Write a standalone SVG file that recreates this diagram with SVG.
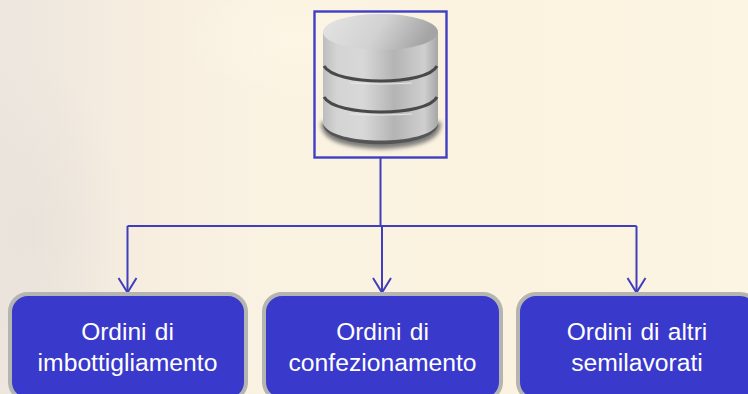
<svg xmlns="http://www.w3.org/2000/svg" width="748" height="394" viewBox="0 0 748 394">
<defs>
<linearGradient id="bg" x1="0" y1="0" x2="1" y2="0"><stop offset="0" stop-color="#ece6df"/><stop offset=".08" stop-color="#f0e9df"/><stop offset=".2" stop-color="#f7eee0"/><stop offset=".4" stop-color="#fbf3e2"/><stop offset=".7" stop-color="#fbf2df"/><stop offset="1" stop-color="#fcf5e3"/></linearGradient>
<radialGradient id="blot"><stop offset="0" stop-color="#e6dfd8" stop-opacity=".6"/><stop offset="1" stop-color="#e6dfd8" stop-opacity="0"/></radialGradient>
<radialGradient id="blot2"><stop offset="0" stop-color="#fff8e8" stop-opacity=".5"/><stop offset="1" stop-color="#fff8e8" stop-opacity="0"/></radialGradient>
<linearGradient id="cyl" x1="0" y1="0" x2="1" y2="0"><stop offset="0" stop-color="#bdbdbd"/><stop offset=".12" stop-color="#d4d4d4"/><stop offset=".35" stop-color="#d8d8d8"/><stop offset=".62" stop-color="#b4b4b4"/><stop offset=".88" stop-color="#cfcfcf"/><stop offset="1" stop-color="#a6a6a6"/></linearGradient>
<linearGradient id="top" x1="0" y1="0" x2="1" y2="0.2"><stop offset="0" stop-color="#e4e4e4"/><stop offset=".55" stop-color="#d2d2d2"/><stop offset="1" stop-color="#a4a4a4"/></linearGradient>
<filter id="soft" x="-20%" y="-20%" width="140%" height="140%"><feGaussianBlur stdDeviation="0.7"/></filter>
<filter id="shb" x="-20%" y="-50%" width="140%" height="200%"><feGaussianBlur stdDeviation="2"/></filter>
<marker id="arr" markerUnits="userSpaceOnUse" markerWidth="20" markerHeight="22" refX="16" refY="11" orient="auto"><path d="M1 2 L15.500 11 L1 20" fill="none" stroke="#3f3fbd" stroke-width="2"/></marker>
<style>
.box{fill:#3939cb;stroke:#b4b4b0;stroke-width:4}
.lbl{font-family:"Liberation Sans",Arial,sans-serif;font-size:24.700px;fill:#fff;text-anchor:middle}
.l1{font-size:24.500px;word-spacing:1.500px}
.con{fill:none;stroke:#3f3fbd;stroke-width:2}
.band{fill:none;stroke:#4a4a4a;stroke-width:3}
.shine{fill:none;stroke:#e8e8e8;stroke-width:1.200}
</style>
</defs>
<rect width="748" height="394" fill="url(#bg)"/>
<ellipse cx="30" cy="230" rx="90" ry="170" fill="url(#blot)"/>
<ellipse cx="290" cy="40" rx="110" ry="60" fill="url(#blot2)"/>
<g id="database">
<path d="M321 122 C321 130 322 147 381 149 C440 147 441 130 441 122 Z" fill="#7a7a78" filter="url(#shb)"/>
<path d="M323 32 V124 C325 151 436 151 438 124 V32 Z" fill="#555" filter="url(#soft)"/>
<path d="M323 32 V124 C332 146 429 146 438 124 V32 Z" fill="url(#cyl)" filter="url(#soft)"/>
<path d="M324 66 C335 86 427 86 437 66" class="band" filter="url(#soft)"/>
<path d="M324 97 C335 117 427 117 437 97" class="band" filter="url(#soft)"/>
<path d="M350 83 Q381 85 412 83" class="shine" filter="url(#soft)"/>
<path d="M350 114 Q381 116 412 114" class="shine" filter="url(#soft)"/>
<ellipse cx="380.500" cy="32" rx="57.500" ry="18" fill="url(#top)" filter="url(#soft)"/>
<rect x="314.500" y="11.500" width="132" height="146" fill="none" stroke="#3f3fc4" stroke-width="2.400"/>
</g>
<g id="connectors">
<path class="con" d="M380.500 158 V226"/>
<path class="con" d="M127.500 226 H636.500"/>
<path class="con" d="M127.500 226 V293" marker-end="url(#arr)"/>
<path class="con" d="M382 226 V293" marker-end="url(#arr)"/>
<path class="con" d="M636.500 226 V293" marker-end="url(#arr)"/>
</g>
<g id="node1"><rect class="box" x="10" y="294" width="236" height="106" rx="18"/><text class="lbl l1" x="127.500" y="340">Ordini di</text><text class="lbl" x="127.500" y="371">imbottigliamento</text></g>
<g id="node2"><rect class="box" x="264" y="294" width="237" height="106" rx="18"/><text class="lbl l1" x="382.500" y="340">Ordini di</text><text class="lbl" x="382.500" y="371">confezionamento</text></g>
<g id="node3"><rect class="box" x="518" y="294" width="240" height="106" rx="18"/><text class="lbl l1" x="637" y="340">Ordini di altri</text><text class="lbl" x="637" y="371">semilavorati</text></g>
</svg>
